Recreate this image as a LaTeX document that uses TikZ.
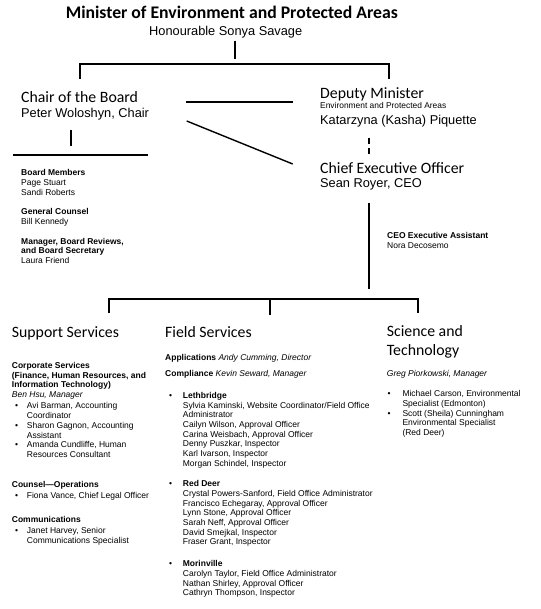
\documentclass[tikz,border=0pt]{standalone}
\usepackage{fontspec}
\setmainfont{Liberation Sans}
\newfontfamily\headfont{Carlito}
\newcommand{\mlines}[1]{\begin{tabular}[t]{@{}l@{}}#1\end{tabular}}
\begin{document}
\begin{tikzpicture}[x=1pt,y=-1pt,
  titletext/.style={font=\headfont\bfseries\fontsize{17.7}{20}\selectfont, inner sep=0pt, anchor=base west},
  headtext/.style={font=\headfont\fontsize{15.8}{18.3}\selectfont, inner sep=0pt, anchor=base west},
  persontext/.style={font=\fontsize{12.8}{15}\selectfont, inner sep=0pt, anchor=base west},
  smalltext/.style={font=\fontsize{8.4}{10}\selectfont, inner sep=0pt, anchor=base west},
  bodytext/.style={font=\fontsize{8.5}{9.7}\selectfont, inner sep=0pt, anchor=base west},
  bullettext/.style={font=\fontsize{8.5}{9.7}\selectfont, inner sep=0pt, anchor=base west},
  conn/.style={line width=2pt, line cap=butt},
  thinconn/.style={line width=1.4pt},
  dashconn/.style={line width=2pt, dash pattern=on 6pt off 4pt}
]
\useasboundingbox (0,0) rectangle (540,609);
\fill[white] (0,0) rectangle (540,609);

% top
\node[titletext] (minister) at (65.6,19) {Minister of Environment and Protected Areas};
\node[persontext] (sonya) at (149,36) {Honourable Sonya Savage};
\node[headtext] (chair) at (21,103) {Chair of the Board};
\node[persontext] (peter) at (21,118) {Peter Woloshyn, Chair};
\node[headtext] (deputy) at (320,99) {Deputy Minister};
\node[smalltext] (deporg) at (320,109) {Environment and Protected Areas};
\node[persontext] (kasha) at (320,125) {Katarzyna (Kasha) Piquette};
\node[headtext] (ceo) at (320,173.3) {Chief Executive Officer};
\node[persontext] (sean) at (320,188) {Sean Royer, CEO};

% board
\node[bodytext] (bm) at (21,176) {\mlines{\textbf{Board Members}\\Page Stuart\\Sandi Roberts}};
\node[bodytext] (gc) at (21,215) {\mlines{\textbf{General Counsel}\\Bill Kennedy}};
\node[bodytext] (mbr) at (21,244.3) {\mlines{\textbf{Manager, Board Reviews,}\\\textbf{and Board Secretary}\\Laura Friend}};
\node[bodytext] (cea) at (387,239) {\mlines{\textbf{CEO Executive Assistant}\\Nora Decosemo}};

% support services
\node[headtext] (ss) at (11.7,337.3) {Support Services};
\node[bodytext] (corp) at (11.7,368.3) {\mlines{\textbf{Corporate Services}\\\textbf{(Finance, Human Resources, and}\\\textbf{Information Technology)}\\\textit{Ben Hsu, Manager}}};
\node[bullettext] (sb1) at (15,408.7) {•};
\node[bodytext] (avi) at (26.7,408.7) {\mlines{Avi Barman, Accounting\\Coordinator}};
\node[bullettext] (sb2) at (15,428.3) {•};
\node[bodytext] (sharon) at (26.7,428.3) {\mlines{Sharon Gagnon, Accounting\\Assistant}};
\node[bullettext] (sb3) at (15,447.9) {•};
\node[bodytext] (amanda) at (26.7,447.9) {\mlines{Amanda Cundliffe, Human\\Resources Consultant}};
\node[bodytext] (cops) at (11.7,487.3) {\textbf{Counsel—Operations}};
\node[bullettext] (sb4) at (15,498.3) {•};
\node[bodytext] (fiona) at (26.7,498.3) {Fiona Vance, Chief Legal Officer};
\node[bodytext] (comm) at (11.7,522.7) {\textbf{Communications}};
\node[bullettext] (sb5) at (15,533.3) {•};
\node[bodytext] (janet) at (26.7,533.3) {\mlines{Janet Harvey, Senior\\Communications Specialist}};

% field services
\node[headtext] (fs) at (165,337.3) {Field Services};
\node[bodytext] (apps) at (165,360) {\textbf{Applications} \textit{Andy Cumming, Director}};
\node[bodytext] (compl) at (165,376.7) {\textbf{Compliance} \textit{Kevin Seward, Manager}};
\node[bullettext] (fb1) at (169,398.3) {•};
\node[bodytext] (leth) at (182.7,398.3) {\mlines{\textbf{Lethbridge}\\Sylvia Kaminski, Website Coordinator/Field Office\\Administrator\\Cailyn Wilson, Approval Officer\\Carina Weisbach, Approval Officer\\Denny Puszkar, Inspector\\Karl Ivarson, Inspector\\Morgan Schindel, Inspector}};
\node[bullettext] (fb2) at (169,486.7) {•};
\node[bodytext] (reddeer) at (182.7,486.7) {\mlines{\textbf{Red Deer}\\Crystal Powers-Sanford, Field Office Administrator\\Francisco Echegaray, Approval Officer\\Lynn Stone, Approval Officer\\Sarah Neff, Approval Officer\\David Smejkal, Inspector\\Fraser Grant, Inspector}};
\node[bullettext] (fb3) at (169,566.7) {•};
\node[bodytext] (morin) at (182.7,566.7) {\mlines{\textbf{Morinville}\\Carolyn Taylor, Field Office Administrator\\Nathan Shirley, Approval Officer\\Cathryn Thompson, Inspector}};

% science
\node[headtext] (st) at (386.7,336.7) {\mlines{Science and\\Technology}};
\node[bodytext] (greg) at (386.7,376) {\textit{Greg Piorkowski, Manager}};
\node[bullettext] (tb1) at (387.3,396.7) {•};
\node[bodytext] (carson) at (402.3,396.7) {\mlines{Michael Carson, Environmental\\Specialist (Edmonton)}};
\node[bullettext] (tb2) at (387.3,416) {•};
\node[bodytext] (scott) at (402.3,416) {\mlines{Scott (Sheila) Cunningham\\Environmental Specialist\\(Red Deer)}};

% connector points
\coordinate (m1) at (234.6,40.7);
\coordinate (m2) at (234.6,58.7);
\coordinate (t0) at (80,79);
\coordinate (t1) at (80,64);
\coordinate (t2) at (389,64);
\coordinate (t3) at (389,79);
\coordinate (c1) at (71,130);
\coordinate (c2) at (71,145.7);
\coordinate (bh1) at (13,155);
\coordinate (bh2) at (148,155);
\coordinate (h1) at (186,101.7);
\coordinate (h2) at (293,101.7);
\coordinate (d1) at (186.7,121);
\coordinate (d2) at (292.7,164);
\coordinate (ds1) at (369,138.3);
\coordinate (ds2) at (369,156);
\coordinate (v1) at (369,203);
\coordinate (v2) at (369,289);
\coordinate (s0) at (109,313);
\coordinate (s1) at (109,299.3);
\coordinate (s3) at (417.7,299.3);
\coordinate (s4) at (417.7,313);
\coordinate (f1) at (270,299.3);
\coordinate (f2) at (270,315);

\draw[conn] (m1) -- (m2);
\draw[conn] (t0) -- (t1) -- (t2) -- (t3);
\draw[conn] (c1) -- (c2);
\draw[conn] (bh1) -- (bh2);
\draw[conn] (h1) -- (h2);
\draw[thinconn] (d1) -- (d2);
\draw[dashconn] (ds1) -- (ds2);
\draw[conn] (v1) -- (v2);
\draw[conn] (s0) -- (s1) -- (s3) -- (s4);
\draw[conn] (f1) -- (f2);
\end{tikzpicture}
\end{document}
